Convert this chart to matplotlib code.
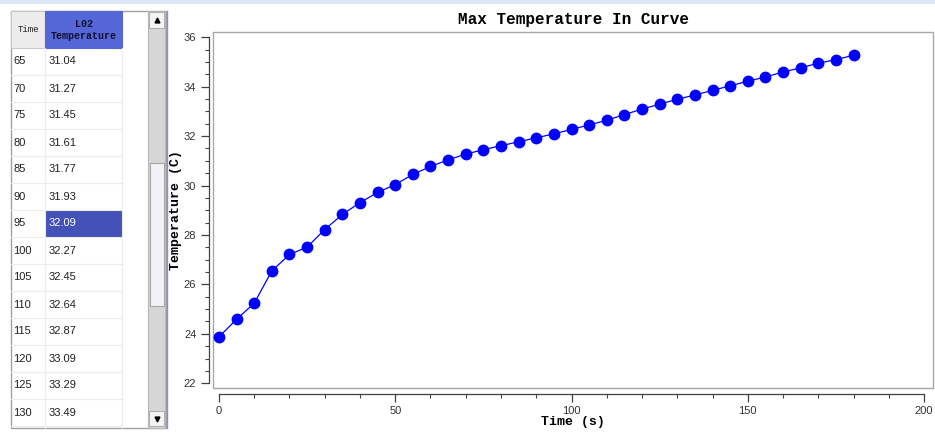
import matplotlib
matplotlib.use("Agg")
import matplotlib.pyplot as plt
from matplotlib.patches import Rectangle
from matplotlib.ticker import MultipleLocator

# dati: tempo (s) e temperatura massima (C)
time_s = [0, 5, 10, 15, 20, 25, 30, 35, 40, 45, 50, 55, 60, 65, 70, 75, 80, 85, 90,
          95, 100, 105, 110, 115, 120, 125, 130, 135, 140, 145, 150, 155, 160, 165,
          170, 175, 180]
temp_c = [23.88, 24.59, 25.24, 26.55, 27.21, 27.51, 28.22, 28.83, 29.31, 29.72, 30.04,
          30.45, 30.77, 31.04, 31.27, 31.45, 31.61, 31.77, 31.93, 32.09, 32.27, 32.45,
          32.64, 32.87, 33.09, 33.29, 33.49, 33.66, 33.85, 34.03, 34.22, 34.39, 34.59,
          34.76, 34.95, 35.09, 35.27]

# righe visibili nella tabella
table_times = time_s[13:27]
table_temps = temp_c[13:27]
selected_time = 95

title = "Max Temperature In Curve"
xlabel = "Time (s)"
ylabel = "Temperature (C)"
col_headers = ["Time", "L02\nTemperature"]

W, H = 935, 432
fig = plt.figure(figsize=(W / 100, H / 100), dpi=100)

# --- pannello di sinistra (tabella) in coordinate pixel ---
bg = fig.add_axes([0, 0, 1, 1])
bg.set_xlim(0, W)
bg.set_ylim(H, 0)
bg.axis("off")

bg.add_patch(Rectangle((0, 0), W, 4, color="#dce8f8", lw=0))
bg.add_patch(Rectangle((10.5, 11), 155.5, 417, facecolor="white", edgecolor="#a0a0a0", lw=1))
bg.plot([166.5, 166.5], [11, 428], color="#8090e0", lw=1)

# intestazione
bg.add_patch(Rectangle((11, 11), 34, 37, facecolor="#ececec", edgecolor="#c8c8c8", lw=0.8))
bg.add_patch(Rectangle((45, 11), 77, 37, facecolor="#5566d6", edgecolor="#5566d6", lw=0.8))
bg.text(28, 30, col_headers[0], ha="center", va="center", fontsize=6.5,
        family="Liberation Mono", color="#202020")
bg.text(83.5, 30, col_headers[1], ha="center", va="center", fontsize=7.2,
        family="Liberation Mono", fontweight="bold", color="#101030", linespacing=1.25)

row_h = 27
for i, (t, v) in enumerate(zip(table_times, table_temps)):
    y0 = 48 + i * row_h
    if t == selected_time:
        bg.add_patch(Rectangle((45.5, y0), 76.5, row_h, facecolor="#4452b8", lw=0))
        vcol = "white"
    else:
        vcol = "#202020"
    bg.plot([11, 122], [y0 + row_h, y0 + row_h], color="#ececec", lw=0.8)
    bg.text(13, y0 + row_h / 2, str(t), ha="left", va="center", fontsize=8,
            family="Liberation Sans", color="#202020")
    bg.text(49, y0 + row_h / 2, f"{v:.2f}", ha="left", va="center", fontsize=8,
            family="Liberation Sans", color=vcol)
bg.plot([45, 45], [48, 428], color="#ececec", lw=0.8)
bg.plot([122, 122], [48, 428], color="#ececec", lw=0.8)

# barra di scorrimento
bg.add_patch(Rectangle((148, 11), 17, 417, facecolor="#d6d6d6", edgecolor="#b8b8b8", lw=0.8))
bg.add_patch(Rectangle((149, 12), 15, 16, facecolor="#f4f4f4", edgecolor="#b0b0b0", lw=0.8))
bg.add_patch(Rectangle((149, 411), 15, 15, facecolor="#f4f4f4", edgecolor="#b0b0b0", lw=0.8))
bg.add_patch(Rectangle((150, 163), 14, 143, facecolor="#f2f2f6", edgecolor="#a8a8a8", lw=0.8))
bg.plot([156.5], [19.5], marker="^", color="black", markersize=3.5)
bg.plot([156.5], [419], marker="v", color="black", markersize=3.5)

# --- grafico ---
ax = fig.add_axes([213 / W, 1 - 388 / H, 720 / W, 356 / H])
ax.plot(time_s, temp_c, color="#0000ff", lw=0.9, marker="o", markersize=7.5,
        markerfacecolor="#0000ff", markeredgecolor="#0000ff")
ax.set_xlim(-1.7, 202.55)
ax.set_ylim(21.81, 36.21)

ax.add_patch(Rectangle((0, 0), 1, 1, transform=ax.transAxes, fill=False,
                       edgecolor="#a8a8a8", lw=1, clip_on=False))
ax.spines["top"].set_visible(False)
ax.spines["right"].set_visible(False)
ax.spines["left"].set_position(("outward", 3))
ax.spines["bottom"].set_position(("outward", 4))
ax.spines["left"].set_bounds(22, 36)
ax.spines["bottom"].set_bounds(0, 200)
for s in ("left", "bottom"):
    ax.spines[s].set_color("#404040")
    ax.spines[s].set_linewidth(0.9)

ax.xaxis.set_major_locator(MultipleLocator(50))
ax.xaxis.set_minor_locator(MultipleLocator(10))
ax.yaxis.set_major_locator(MultipleLocator(2))
ax.yaxis.set_minor_locator(MultipleLocator(0.5))
ax.tick_params(which="major", length=6, width=0.9, color="#404040",
               labelsize=8, labelcolor="#333333", pad=3)
ax.tick_params(which="minor", length=3, width=0.8, color="#404040")
for lab in ax.get_xticklabels() + ax.get_yticklabels():
    lab.set_family("Liberation Sans")

ax.set_title(title, family="Liberation Mono", fontweight="bold", fontsize=11.5, pad=6)
ax.set_xlabel(xlabel, family="Liberation Mono", fontweight="bold", fontsize=9.5, labelpad=0)
ax.set_ylabel(ylabel, family="Liberation Mono", fontweight="bold", fontsize=9.5, labelpad=1)

fig.savefig("out.png", dpi=100)
